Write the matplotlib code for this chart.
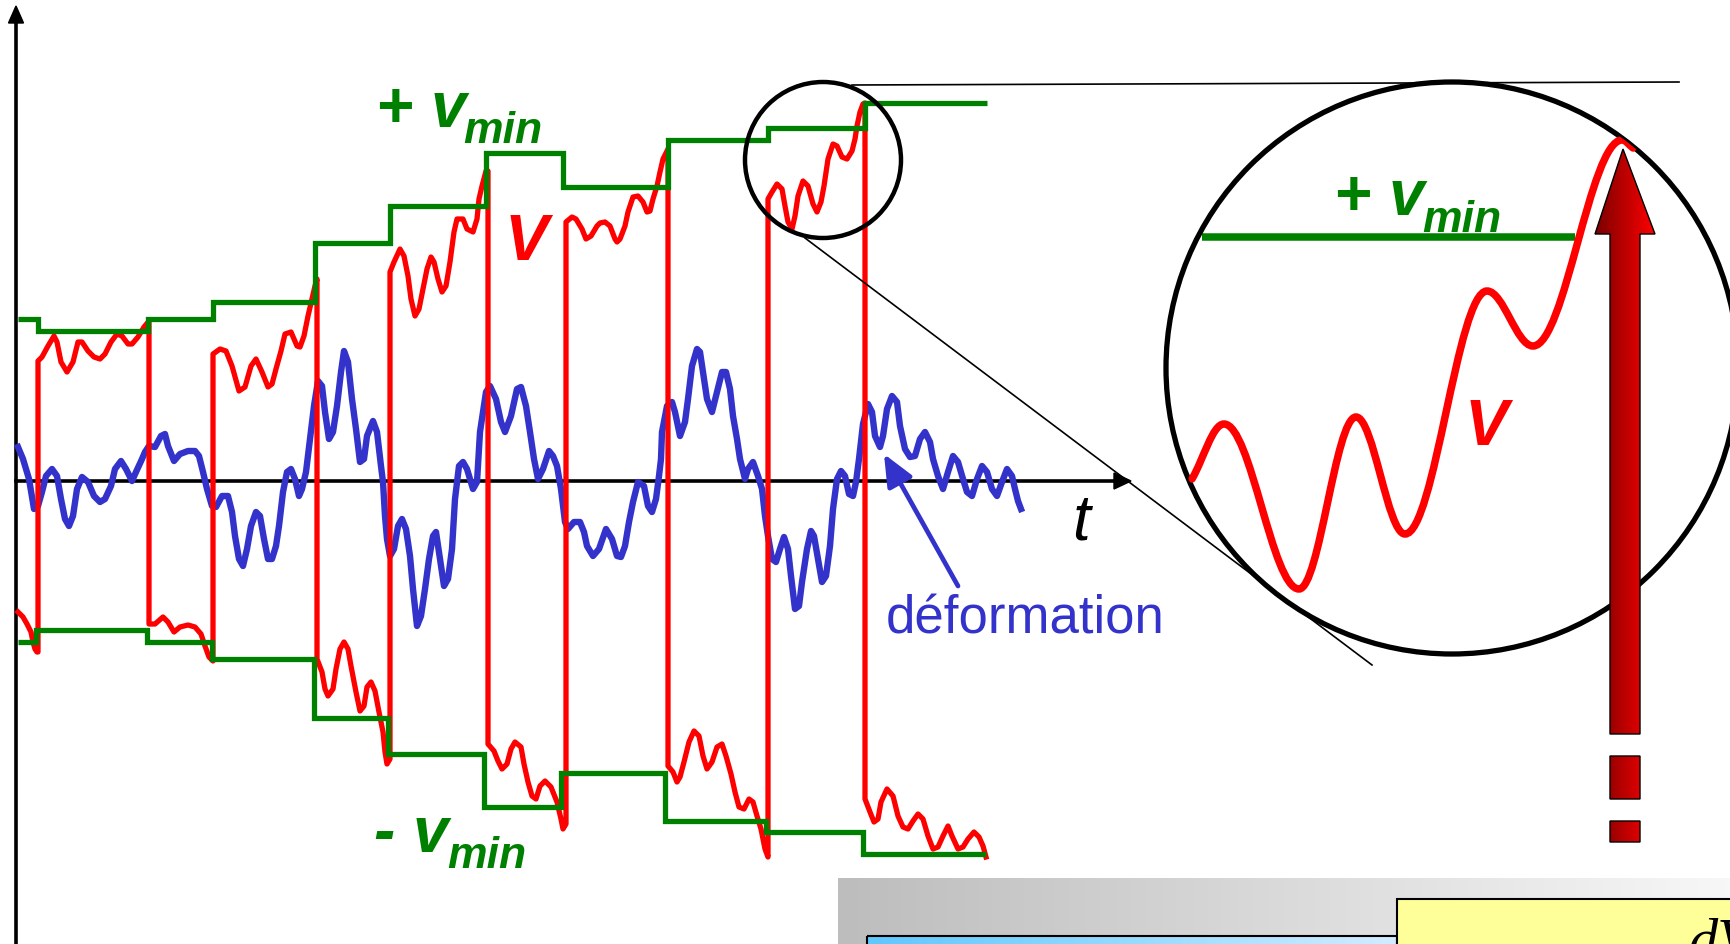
import numpy as np
import matplotlib
matplotlib.use("Agg")
import matplotlib.pyplot as plt
from matplotlib.path import Path
from matplotlib.patches import PathPatch, Circle, Rectangle, Polygon
from matplotlib.colors import LinearSegmentedColormap

W, H = 1730, 945
GREEN = "#008000"
RED = "#ff0000"
BLUE = "#3333cc"
SANS = "Liberation Sans"

# +v_min threshold: step edges and levels (pixel units, y down)
up_edges = [18, 38, 148, 213, 315, 390, 486, 563, 668, 768, 865, 987]
up_levels = [320, 332, 320, 303, 244, 207, 154, 188, 141, 129, 104]
# -v_min threshold
lo_edges = [18, 36, 147, 212, 314, 388, 484, 561, 665, 766, 863, 986]
lo_levels = [643, 631, 643, 660, 719, 755, 808, 774, 822, 833, 855]

# signal V, one wiggly piece per step, the jumps join them
red_x = [18, 23, 27, 31, 33, 35, 37, 38,
         38, 42, 48, 54, 57, 61, 67, 73, 78, 82, 88, 94, 100, 105, 111, 117, 122, 128, 132, 138, 144, 149,
         149, 155, 163, 168, 174, 180, 188, 195, 201, 205, 209, 213,
         213, 220, 226, 232, 239, 245, 251, 256, 262, 268, 272, 276, 281, 285, 291, 297, 300, 304, 308, 312, 315, 317,
         317, 322, 325, 328, 333, 336, 340, 344, 348, 351, 356, 360, 364, 367, 371, 375, 379, 383, 385, 387, 390,
         390, 394, 400, 404, 408, 411, 415, 419, 423, 427, 431, 434, 438, 442, 446, 450, 454, 457, 463, 467, 473, 477, 479, 482, 486, 488,
         488, 494, 498, 502, 507, 511, 515, 521, 524, 528, 532, 536, 540, 545, 551, 557, 561, 563, 566,
         566, 572, 576, 582, 586, 591, 597, 600, 605, 610, 615, 617, 620, 625, 628, 633, 638, 643, 647, 650, 653, 657, 660, 663, 668,
         668, 673, 677, 680, 684, 689, 694, 699, 703, 707, 712, 717, 722, 726, 731, 735, 739, 744, 749, 753, 757, 761, 765, 768,
         768, 772, 777, 782, 785, 788, 792, 795, 798, 803, 808, 813, 817, 821, 824, 828, 833, 837, 842, 847, 852, 855, 857, 860, 863, 865,
         865, 870, 874, 878, 881, 887, 893, 898, 903, 908, 913, 918, 923, 928, 933, 938, 943, 948, 952, 958, 963, 968, 974, 979, 983, 986]
red_y = [613, 618, 625, 633, 643, 650, 653, 653,
         362, 358, 347, 337, 343, 363, 373, 363, 343, 343, 352, 358, 360, 355, 343, 335, 337, 345, 345, 338, 328, 322,
         625, 625, 618, 623, 633, 628, 626, 628, 635, 647, 658, 662,
         355, 350, 352, 367, 392, 388, 367, 360, 373, 388, 385, 370, 352, 335, 333, 347, 348, 337, 317, 300, 287, 280,
         660, 673, 690, 697, 690, 670, 650, 643, 650, 667, 693, 712, 707, 688, 683, 692, 713, 733, 753, 765, 760,
         273, 263, 250, 257, 277, 300, 317, 310, 290, 270, 258, 263, 280, 293, 287, 263, 233, 220, 220, 230, 233, 220, 200, 187, 172, 172,
         745, 752, 762, 770, 765, 750, 743, 748, 765, 783, 797, 800, 787, 782, 788, 803, 820, 830, 825,
         223, 218, 220, 230, 240, 237, 227, 224, 223, 227, 240, 243, 240, 227, 213, 198, 197, 203, 213, 212, 200, 187, 173, 160, 150,
         767, 773, 783, 778, 763, 743, 732, 737, 757, 770, 763, 748, 745, 757, 775, 793, 808, 810, 800, 803, 817, 830, 850, 858,
         200, 193, 185, 190, 207, 223, 230, 217, 197, 182, 187, 205, 213, 203, 187, 160, 145, 147, 158, 160, 152, 140, 127, 113, 105, 104,
         800, 813, 823, 820, 803, 790, 797, 817, 828, 830, 822, 815, 820, 837, 850, 848, 837, 827, 837, 850, 848, 840, 833, 838, 847, 858]

# deformation curve
def_x = [18, 23, 29, 34, 38, 42, 46, 52, 57, 61, 65, 69, 73, 77, 82, 88, 94, 100, 105, 111, 115, 121, 126, 132, 136, 142,
         145, 149, 155, 161, 165, 168, 174, 180, 188, 195, 199, 203, 207, 212, 216, 222, 228, 232, 235, 239, 243, 247,
         251, 256, 260, 264, 268, 272, 276, 279, 283, 287, 291, 295, 299, 302, 306, 310, 314, 318, 322, 325, 329, 333,
         337, 341, 344, 348, 352, 356, 360, 364, 367, 373, 377, 381, 383, 385, 387, 390, 394, 398, 402, 406, 410, 413,
         417, 421, 425, 429, 433, 436, 440, 444, 448, 452, 455, 459, 463, 467, 473, 477, 480, 486, 490, 496, 501, 505,
         511, 517, 521, 526, 530, 534, 538, 543, 549, 553, 557, 561, 565, 568, 574, 580, 584, 587, 593, 599, 606, 612,
         617, 621, 625, 629, 633, 638, 644, 648, 652, 656, 659, 661, 662, 667, 672, 675, 680, 685, 688, 692, 697, 700,
         703, 707, 712, 717, 722, 726, 730, 733, 737, 740, 745, 748, 753, 758, 762, 765, 768, 772, 776, 780, 784, 788,
         791, 795, 799, 802, 807, 811, 814, 818, 822, 826, 830, 833, 837, 841, 845, 849, 853, 856, 859, 863, 868, 872,
         875, 880, 883, 887, 892, 897, 900, 905, 910, 915, 920, 925, 930, 933, 938, 943, 948, 953, 958, 963, 967, 972,
         977, 982, 987, 992, 997, 1002, 1007, 1012, 1015, 1018, 1021]
def_y = [448, 460, 480, 510, 507, 493, 477, 470, 477, 500, 520, 527, 517, 490, 478, 483, 497, 503, 500, 487, 470, 462, 470, 482, 473, 460,
         453, 447, 448, 437, 435, 447, 462, 455, 452, 452, 457, 473, 490, 507, 508, 497, 497, 513, 537, 560, 567, 550,
         527, 513, 517, 540, 560, 560, 547, 527, 493, 473, 470, 480, 497, 490, 473, 440, 407, 382, 387, 413, 440, 433,
         407, 373, 352, 363, 400, 430, 463, 460, 437, 422, 433, 467, 483, 517, 540, 557, 550, 527, 520, 530, 557, 590,
         627, 617, 590, 560, 537, 533, 560, 587, 580, 550, 500, 467, 463, 470, 490, 483, 433, 393, 387, 400, 423, 433,
         417, 390, 388, 407, 433, 460, 480, 470, 452, 457, 467, 490, 523, 530, 523, 523, 533, 547, 557, 550, 530, 540,
         557, 558, 547, 523, 503, 483, 487, 507, 513, 500, 477, 460, 433, 407, 403, 413, 437, 423, 400, 367, 350, 353,
         373, 400, 413, 393, 373, 373, 390, 417, 440, 460, 480, 470, 463, 477, 490, 517, 537, 560, 563, 550, 538, 550,
         577, 610, 607, 583, 550, 532, 537, 560, 583, 577, 547, 510, 480, 472, 477, 495, 497, 483, 460, 425, 405, 413,
         437, 448, 437, 410, 397, 403, 427, 450, 458, 457, 440, 433, 443, 460, 477, 490, 473, 457, 463, 480, 493, 497,
         480, 467, 473, 490, 497, 483, 470, 477, 490, 502, 510]

# zoomed detail: extrema of V inside the big circle, and the threshold level
zoom_x = [1192, 1224, 1299, 1356, 1405, 1487, 1533, 1622, 1633]
zoom_y = [480, 425, 590, 418, 535, 292, 347, 141, 149]
zoom_vmin_x = [1202, 1575]
zoom_vmin_y = [238, 238]


def smooth_path(xs, ys, k=0.36):
    verts = [(xs[0], ys[0])]
    codes = [Path.MOVETO]
    n = len(xs)
    for i in range(n - 1):
        x0, y0, x1, y1 = xs[i], ys[i], xs[i + 1], ys[i + 1]
        dx, dy = x1 - x0, y1 - y0
        c1 = (x0 + k * dx, y0 + (k * dy if i == 0 else 0))
        c2 = (x1 - k * dx, y1 - (k * dy if i == n - 2 else 0))
        verts += [c1, c2, (x1, y1)]
        codes += [Path.CURVE4] * 3
    return Path(verts, codes)


def gradient(ax, extent, c0, c1, clip=None, z=1):
    cmap = LinearSegmentedColormap.from_list("g", [c0, c1])
    im = ax.imshow(np.linspace(0, 1, 256)[None, :], cmap=cmap, extent=extent,
                   aspect="auto", interpolation="bicubic", zorder=z)
    if clip is not None:
        im.set_clip_path(clip)
    return im


fig = plt.figure(figsize=(W / 100, H / 100), dpi=100)
ax = fig.add_axes([0, 0, 1, 1])
ax.axis("off")

# axes
ax.plot([16, 16], [945, 20], color="k", lw=2.6, zorder=1)
ax.add_patch(Polygon([(16, 7), (8.5, 24), (23.5, 24)], color="k", zorder=1))
ax.plot([16, 1116], [482, 482], color="k", lw=2.6, zorder=1)
ax.add_patch(Polygon([(1131, 482), (1114, 474), (1114, 490)], color="k", zorder=1))
ax.text(1072, 540, "t", family=SANS, style="italic", fontsize=46, va="baseline")

# curves
ax.plot(def_x, def_y, color=BLUE, lw=4.6, solid_joinstyle="round", zorder=2)
ax.plot(red_x, red_y, color=RED, lw=3.8, solid_joinstyle="round", zorder=3)
ax.stairs(up_levels, up_edges, baseline=None, color=GREEN, lw=3.8, zorder=4)
ax.stairs(lo_levels, lo_edges, baseline=None, color=GREEN, lw=3.8, zorder=4)

# labels
lab = dict(family=SANS, weight="bold", style="italic", va="baseline")
ax.text(376, 127, "+ v", color=GREEN, fontsize=46, **lab)
ax.text(463, 143, "min", color=GREEN, fontsize=32, **lab)
ax.text(374, 852, "- v", color=GREEN, fontsize=46, **lab)
ax.text(447, 868, "min", color=GREEN, fontsize=32, **lab)
ax.text(505, 260, "V", color=RED, fontsize=47, **lab)

ax.annotate("", xy=(884, 455), xytext=(958, 587),
            arrowprops=dict(arrowstyle="-|>,head_length=0.8,head_width=0.35",
                            color=BLUE, lw=3.4, mutation_scale=24,
                            shrinkA=0, shrinkB=0), zorder=5)
ax.text(886, 633, "déformation", color=BLUE, family=SANS, fontsize=38, va="baseline")

# magnifier
ax.add_patch(Circle((823, 161), 78, fill=False, ec="k", lw=3.2, zorder=6))
ax.plot([852, 1679], [86, 83], color="k", lw=1.2, zorder=5)
ax.plot([805, 1372], [239, 666], color="k", lw=1.2, zorder=5)
big = Circle((1452, 369), 286, fill=False, ec="k", lw=3.8, zorder=7)
ax.add_patch(big)
clip_circle = Circle((1452, 369), 286, transform=ax.transData)

ax.plot(zoom_vmin_x, zoom_vmin_y, color=GREEN, lw=5.4, solid_capstyle="butt", zorder=6)
ax.text(1334, 215, "+ v", color=GREEN, fontsize=46, **lab)
ax.text(1422, 232, "min", color=GREEN, fontsize=32, **lab)
ax.text(1465, 445, "V", color=RED, fontsize=47, **lab)

# big gradient arrow with two dashes below
arrow_verts = [(1623, 150), (1655, 235), (1640, 235), (1640, 735), (1610, 735),
               (1610, 235), (1595, 235), (1623, 150),
               (1610, 757), (1640, 757), (1640, 800), (1610, 800), (1610, 757),
               (1610, 822), (1640, 822), (1640, 843), (1610, 843), (1610, 822)]
arrow_codes = ([Path.MOVETO] + [Path.LINETO] * 6 + [Path.CLOSEPOLY]) + \
              ([Path.MOVETO] + [Path.LINETO] * 3 + [Path.CLOSEPOLY]) * 2
arrow_path = Path(arrow_verts, arrow_codes)
clip_arrow = PathPatch(arrow_path, transform=ax.transData)
gradient(ax, (1595, 1655, 845, 148), "#7a0000", "#ff0000", clip=clip_arrow, z=8)
ax.add_patch(PathPatch(arrow_path, fill=False, ec="k", lw=1, zorder=9))

zp = PathPatch(smooth_path(zoom_x, zoom_y), fill=False, ec=RED, lw=5.4,
               capstyle="round", zorder=10)
ax.add_patch(zp)
zp.set_clip_path(clip_circle)

# bottom boxes
gradient(ax, (838, 1730, 945, 879), "#bdbdbd", "#f7f7f7", z=1)
gradient(ax, (867, 1397, 950, 937), "#5ec8ff", "#d2ecff", z=2)
ax.add_patch(Rectangle((867, 937), 530, 20, fill=False, ec="k", lw=1.5, zorder=3))
ax.add_patch(Rectangle((1397, 900), 345, 60, fc="#ffff99", ec="k", lw=1.5, zorder=3))
ser = dict(family="Liberation Serif", style="italic", fontsize=42, va="baseline", zorder=4)
ax.text(1688, 957, "dV", **ser)
ax.text(1440, 982, "i", **ser)
ax.text(1540, 982, "i", **ser)

ax.set_xlim(0, W)
ax.set_ylim(H, 0)
fig.savefig("out.png", dpi=100)
